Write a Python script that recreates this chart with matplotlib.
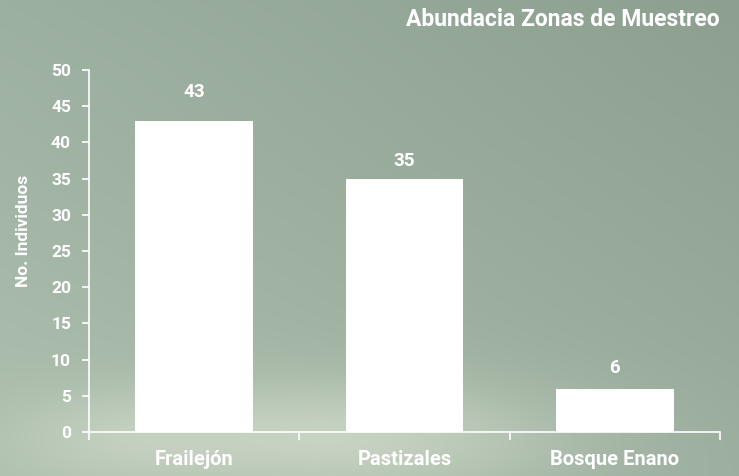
import numpy as np
import matplotlib
matplotlib.use("Agg")
import matplotlib.pyplot as plt

categories = ["Frailejón", "Pastizales", "Bosque Enano"]
values = [43, 35, 6]
yticks = [0, 5, 10, 15, 20, 25, 30, 35, 40, 45, 50]
title = "Abundacia Zonas de Muestreo"
ylabel = "No. Individuos"
label_gap_px = [20, 9, 12]

W, H = 739, 476
fig = plt.figure(figsize=(W / 100, H / 100), dpi=100)

# background gradient
bg = fig.add_axes([0, 0, 1, 1])
yy, xx = np.mgrid[0:H, 0:W] / np.array([H, W])[:, None, None]
top_l = np.array([0x9c, 0xb0, 0xa1]) / 255
top_r = np.array([0x8d, 0xa0, 0x90]) / 255
bot_l = np.array([0xae, 0xbf, 0xae]) / 255
bot_r = np.array([0x9c, 0xae, 0x9e]) / 255
img = (top_l[None, None, :] * ((1 - xx) * (1 - yy))[..., None]
       + top_r[None, None, :] * (xx * (1 - yy))[..., None]
       + bot_l[None, None, :] * ((1 - xx) * yy)[..., None]
       + bot_r[None, None, :] * (xx * yy)[..., None])
light = np.array([0xc6, 0xd2, 0xc2]) / 255
blob = np.exp(-(((xx - 0.45) / 0.3) ** 2 + ((yy - 0.92) / 0.12) ** 2))
blob2 = 0.5 * np.exp(-(((xx - 0.15) / 0.15) ** 2 + ((yy - 0.92) / 0.1) ** 2))
b = np.clip(blob + blob2, 0, 1)[..., None]
img = img * (1 - b) + light[None, None, :] * b
bg.imshow(img, aspect="auto", extent=[0, 1, 0, 1], origin="upper")
bg.set_axis_off()

fam = ["Roboto", "DejaVu Sans"]
ax = fig.add_axes([89 / W, 1 - 432 / H, (720 - 89) / W, (432 - 70) / H])
ax.patch.set_alpha(0)
x = np.arange(len(categories))
bars = ax.bar(x, values, width=0.56, color="white", zorder=3)
ax.set_xlim(-0.5, len(categories) - 0.5)
ax.set_ylim(0, 50)
ax.set_yticks(yticks)
ax.set_yticklabels([str(t) for t in yticks], fontsize=12.5, fontweight="bold",
                   color="white", family=fam)
ax.set_xticks(x)
ax.set_xticklabels(categories, fontsize=14.5, fontweight="bold", color="white", family=fam)
ax.tick_params(axis="x", length=0, pad=13)
ax.set_xticks(np.arange(len(categories) + 1) - 0.5, minor=True)
ax.tick_params(axis="x", which="minor", length=6, color="white", width=1.2)
ax.tick_params(axis="y", length=5, color="white", width=1.2, pad=8)
for s in ["top", "right"]:
    ax.spines[s].set_visible(False)
for s in ["left", "bottom"]:
    ax.spines[s].set_color("white")
    ax.spines[s].set_linewidth(1.2)
for xi, v, g in zip(x, values, label_gap_px):
    ax.annotate(str(v), (xi, v), xytext=(0, g * 0.72), textcoords="offset points",
                ha="center", va="bottom", fontsize=13.5, fontweight="bold",
                color="white", family=fam)
ax.set_ylabel(ylabel, fontsize=12.5, fontweight="bold", color="white", family=fam)
ax.yaxis.set_label_coords((31 - 89) / (720 - 89), (432 - 231) / (432 - 70))

fig.text(720 / W, 1 - 19 / H, title, ha="right", va="center", fontsize=16.5,
         fontweight="bold", color="white", family=fam)

fig.savefig("out.png", dpi=100)
